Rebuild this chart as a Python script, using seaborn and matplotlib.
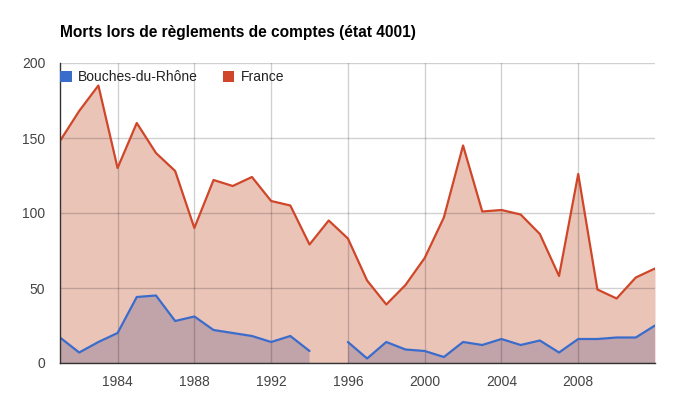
import numpy as np
import pandas as pd
import matplotlib
matplotlib.use("Agg")
import matplotlib.pyplot as plt
from matplotlib.patches import Patch
import seaborn as sns

years = list(range(1981, 2013))
france = [148, 168, 185, 130, 160, 140, 128, 90, 122, 118, 124, 108, 105, 79, 95,
          83, 55, 39, 52, 70, 97, 145, 101, 102, 99, 86, 58, 126, 49, 43, 57, 63]
bdr = [17, 7, 14, 20, 44, 45, 28, 31, 22, 20, 18, 14, 18, 8, np.nan,
       14, 3, 14, 9, 8, 4, 14, 12, 16, 12, 15, 7, 16, 16, 17, 17, 25]
series_names = ["Bouches-du-Rhône", "France"]
colors = {"Bouches-du-Rhône": "#3a6ccc", "France": "#cf4629"}
fills = {"Bouches-du-Rhône": "#c1a3aa", "France": "#ebc4b8"}
title = "Morts lors de règlements de comptes (état 4001)"
xticks = [1984, 1988, 1992, 1996, 2000, 2004, 2008]
yticks = [0, 50, 100, 150, 200]

sns.set_theme(style="white")
plt.rcParams['font.family'] = ['Liberation Sans', 'DejaVu Sans']

rows = []
for y, f, b in zip(years, france, bdr):
    rows.append({"year": y, "value": f, "series": "France", "seg": 0})
    rows.append({"year": y, "value": b, "series": "Bouches-du-Rhône",
                 "seg": 1 if y < 1995 else 2})
df = pd.DataFrame(rows).dropna()

fig = plt.figure(figsize=(6.84, 4.09), dpi=100)
ax = fig.add_axes([60/684, 46/409, 595/684, 300/409])

ax.fill_between(years, france, 0, color=fills["France"], linewidth=0, zorder=2)
ax.fill_between(years, np.array(bdr, dtype=float), 0, color=fills["Bouches-du-Rhône"],
                linewidth=0, zorder=2)
sns.lineplot(data=df, x="year", y="value", hue="series", units="seg", estimator=None,
             palette=colors, hue_order=["France", "Bouches-du-Rhône"], legend=False,
             linewidth=1.6, ax=ax, zorder=3)

ax.set_xlim(1981, 2012)
ax.set_ylim(0, 200)
ax.set_xticks(xticks)
ax.set_yticks(yticks)
ax.set_xlabel("")
ax.set_ylabel("")
ax.set_axisbelow(False)
ax.grid(True, color="black", alpha=0.18, linewidth=1)
for gl in ax.get_xgridlines() + ax.get_ygridlines():
    gl.set_zorder(2.5)
for s in ["top", "right"]:
    ax.spines[s].set_visible(False)
for s in ["left", "bottom"]:
    ax.spines[s].set_color("#333333")
    ax.spines[s].set_linewidth(1)
    ax.spines[s].set_zorder(4)
ax.tick_params(axis="both", length=0, labelsize=10, colors="#444444")
ax.tick_params(axis="x", pad=9)
ax.tick_params(axis="y", pad=10.5)

fig.text(60/684, 1 - 32/409, title, fontsize=11.2, fontweight="bold", color="#000000",
         ha="left", va="center")

handles = [Patch(facecolor=colors[n], edgecolor="none", label=n) for n in series_names]
leg = ax.legend(handles=handles, loc="upper left", bbox_to_anchor=(0.0, 0.977), ncol=2,
                frameon=False, fontsize=10, handlelength=0.85, handleheight=0.85,
                handletextpad=0.43, columnspacing=1.8, borderaxespad=0.0, borderpad=0.0)
for t in leg.get_texts():
    t.set_color("#222222")

fig.savefig("out.png", dpi=100, facecolor="white")
